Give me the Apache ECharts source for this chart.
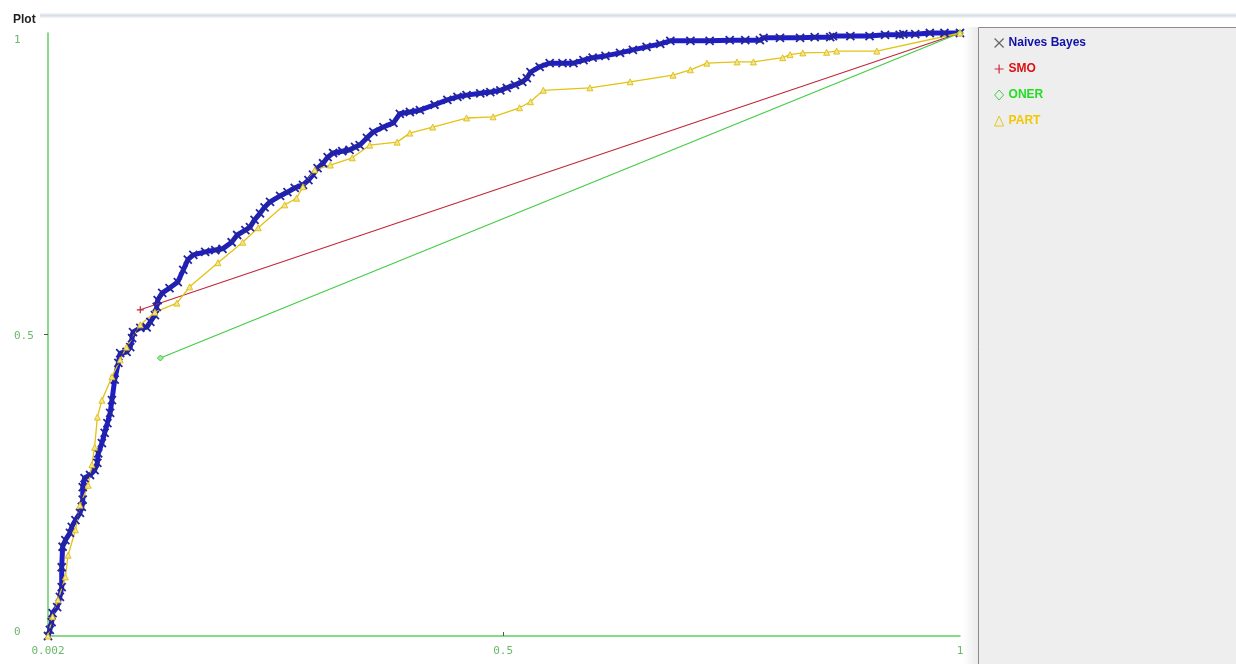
<!DOCTYPE html>
<html><head><meta charset="utf-8">
<script src="https://cdn.jsdelivr.net/npm/echarts@6/dist/echarts.min.js"></script>
<style>html,body{margin:0;padding:0;background:#fff}#c{width:1236px;height:664px}</style>
</head><body><div id="c"></div>
<script>
const seriesNames = ['Naives Bayes', 'SMO', 'ONER', 'PART'];
const xTickLabels = [0.002, 0.5, 1];
const yTickLabels = [0, 0.5, 1];

const naiveBayes = [
  [0.002,0],[0.004,0.010],[0.006,0.023],[0.007,0.038],[0.012,0.048],[0.015,0.065],[0.017,0.081],
  [0.017,0.114],[0.018,0.148],[0.021,0.159],[0.026,0.171],[0.028,0.181],[0.032,0.192],[0.037,0.204],
  [0.039,0.214],[0.040,0.226],[0.040,0.247],[0.042,0.262],[0.048,0.267],[0.053,0.275],[0.056,0.287],
  [0.057,0.303],[0.061,0.320],[0.064,0.337],[0.067,0.353],[0.070,0.370],[0.072,0.391],[0.075,0.425],
  [0.079,0.453],[0.081,0.469],[0.088,0.471],[0.092,0.479],[0.094,0.494],[0.095,0.504],[0.103,0.511],
  [0.110,0.512],[0.114,0.521],[0.119,0.532],[0.121,0.546],[0.122,0.557],[0.127,0.569],[0.135,0.577],
  [0.144,0.587],[0.150,0.607],[0.155,0.624],[0.161,0.632],[0.174,0.637],[0.185,0.640],[0.193,0.642],
  [0.203,0.653],[0.209,0.665],[0.218,0.673],[0.223,0.678],[0.228,0.690],[0.234,0.701],[0.239,0.711],
  [0.245,0.720],[0.256,0.730],[0.264,0.736],[0.272,0.743],[0.281,0.748],[0.287,0.756],[0.292,0.765],
  [0.297,0.776],[0.303,0.784],[0.308,0.794],[0.314,0.801],[0.324,0.804],[0.332,0.806],[0.338,0.811],
  [0.343,0.814],[0.351,0.826],[0.358,0.836],[0.369,0.844],[0.380,0.851],[0.387,0.866],[0.398,0.869],
  [0.409,0.872],[0.425,0.881],[0.439,0.889],[0.450,0.894],[0.460,0.897],[0.475,0.900],[0.486,0.902],
  [0.497,0.905],[0.504,0.909],[0.513,0.914],[0.521,0.919],[0.526,0.925],[0.530,0.935],[0.540,0.944],
  [0.551,0.950],[0.565,0.950],[0.577,0.950],[0.588,0.955],[0.598,0.959],[0.612,0.962],[0.628,0.967],
  [0.642,0.972],[0.657,0.977],[0.672,0.982],[0.683,0.987],[0.705,0.987],[0.726,0.987],[0.748,0.988],
  [0.765,0.988],[0.781,0.988],[0.785,0.992],[0.803,0.992],[0.825,0.992],[0.841,0.993],[0.858,0.993],
  [0.861,0.995],[0.880,0.995],[0.901,0.995],[0.918,0.997],[0.934,0.997],[0.938,0.998],[0.951,0.998],
  [0.967,1.0],[0.983,1.0],[1.0,1.0]
];
const smo = [[0.103,0.541],[1,1]];
const oner = [[0.125,0.461],[1,1]];
const part = [
  [0.002,0],[0.007,0.032],[0.013,0.060],[0.021,0.098],[0.024,0.134],[0.032,0.176],[0.037,0.217],
  [0.046,0.250],[0.050,0.284],[0.053,0.313],[0.056,0.363],[0.061,0.391],[0.072,0.430],[0.081,0.458],
  [0.088,0.479],[0.103,0.516],[0.119,0.537],[0.143,0.552],[0.157,0.579],[0.188,0.619],[0.215,0.653],
  [0.232,0.677],[0.261,0.715],[0.274,0.726],[0.281,0.745],[0.294,0.773],[0.311,0.781],[0.335,0.793],
  [0.354,0.814],[0.384,0.819],[0.398,0.834],[0.423,0.844],[0.460,0.859],[0.489,0.861],[0.518,0.876],
  [0.530,0.886],[0.544,0.905],[0.595,0.909],[0.639,0.919],[0.686,0.930],[0.705,0.939],[0.723,0.950],
  [0.756,0.952],[0.774,0.952],[0.806,0.959],[0.814,0.964],[0.828,0.967],[0.854,0.968],[0.865,0.970],
  [0.909,0.970],[1.0,1.0]
];

const X_PATH = 'path://M0,0L10,10M10,0L0,10';
const PLUS_PATH = 'path://M5,0L5,10M0,5L10,5';
const colors = { nb: '#1e1ec4', smo: '#c0283a', oner: '#44cc44', part: '#e4c214' };
const mono = '"DejaVu Sans Mono", monospace';

const chart = echarts.init(document.getElementById('c'), null, { renderer: 'canvas' });
chart.setOption({
  animation: false,
  backgroundColor: '#ffffff',
  title: {
    text: 'Plot', left: 8, top: 9,
    textStyle: { fontFamily: '"Liberation Sans", Arial, sans-serif', fontSize: 12, fontWeight: 'bold', color: '#222' }
  },
  graphic: [
    { type: 'rect', z: -10, shape: { x: 40, y: 13, width: 1196, height: 5 },
      style: { fill: new echarts.graphic.LinearGradient(0, 0, 0, 1, [
        { offset: 0, color: '#f4f6f9' }, { offset: 0.5, color: '#d8dfe8' }, { offset: 1, color: '#f4f6f9' }]) } },
    { type: 'rect', z: -10, shape: { x: 963, y: 27, width: 15, height: 637 },
      style: { fill: new echarts.graphic.LinearGradient(0, 0, 1, 0, [
        { offset: 0, color: '#ffffff' }, { offset: 1, color: '#ebebeb' }]) } },
    { type: 'rect', z: -10, shape: { x: 978.5, y: 27.5, width: 260, height: 640 },
      style: { fill: '#eeeeee', stroke: '#8c8c8c', lineWidth: 1 } }
  ],
  legend: {
    orient: 'vertical', left: 989, top: 31, z: 10,
    itemWidth: 9, itemHeight: 10, itemGap: 12, selectedMode: false,
    lineStyle: { opacity: 0 },
    textStyle: { fontFamily: '"Liberation Sans", Arial, sans-serif', fontSize: 12, fontWeight: 'bold', lineHeight: 14 },
    data: [
      { name: seriesNames[0], icon: X_PATH, itemStyle: { color: 'transparent', borderColor: '#666', borderWidth: 1.2 }, textStyle: { color: '#1212a8' } },
      { name: seriesNames[1], icon: PLUS_PATH, itemStyle: { color: 'transparent', borderColor: '#d0283a', borderWidth: 1.2 }, textStyle: { color: '#dd1010' } },
      { name: seriesNames[2], icon: 'diamond', itemStyle: { color: '#eeeeee', borderColor: '#44cc44', borderWidth: 1 }, textStyle: { color: '#22dd22' } },
      { name: seriesNames[3], icon: 'triangle', itemStyle: { color: '#eeeeee', borderColor: '#e8c81a', borderWidth: 1 }, textStyle: { color: '#f2c800' } }
    ]
  },
  grid: { left: 48, right: 276, top: 33, bottom: 28, containLabel: false },
  xAxis: {
    type: 'value', min: 0.002, max: 1,
    splitLine: { show: false },
    axisLine: { show: true, lineStyle: { color: '#60d060', width: 1.5 } },
    axisTick: { show: true, inside: true, length: 4, customValues: [0.5], lineStyle: { color: '#555' } },
    axisLabel: { customValues: xTickLabels, formatter: v => String(v), color: '#6ab86a', fontFamily: mono, fontSize: 11, margin: 10 }
  },
  yAxis: {
    type: 'value', min: 0, max: 1,
    splitLine: { show: false },
    axisLine: { show: true, lineStyle: { color: '#60d060', width: 1.5 } },
    axisTick: { show: true, inside: false, length: 4, customValues: [0.5], lineStyle: { color: '#555' } },
    axisLabel: {
      customValues: yTickLabels, align: 'left', margin: 34,
      color: '#6ab86a', fontFamily: mono, fontSize: 11,
      formatter: v => v === 1 ? '{a|1}' : (v === 0 ? '{c|0}' : '{b|' + v + '}'),
      rich: {
        a: { padding: [14, 0, 0, 0], color: '#6ab86a', fontFamily: mono, fontSize: 11 },
        b: { padding: [3, 0, 0, 0], color: '#6ab86a', fontFamily: mono, fontSize: 11 },
        c: { padding: [0, 0, 8, 0], color: '#6ab86a', fontFamily: mono, fontSize: 11 }
      }
    }
  },
  series: [
    { name: seriesNames[0], type: 'line', data: naiveBayes, clip: false,
      symbol: X_PATH, symbolSize: 8,
      lineStyle: { color: colors.nb, width: 5 },
      itemStyle: { color: 'transparent', borderColor: '#24249c', borderWidth: 1.8 } },
    { name: seriesNames[1], type: 'line', data: smo, clip: false,
      symbol: PLUS_PATH, symbolSize: 7,
      lineStyle: { color: colors.smo, width: 1.2 },
      itemStyle: { color: 'transparent', borderColor: colors.smo, borderWidth: 1.2 } },
    { name: seriesNames[2], type: 'line', data: oner, clip: false,
      symbol: 'diamond', symbolSize: 6,
      lineStyle: { color: colors.oner, width: 1.2 },
      itemStyle: { color: '#9fe89f', borderColor: colors.oner, borderWidth: 1 } },
    { name: seriesNames[3], type: 'line', data: part, clip: false,
      symbol: 'triangle', symbolSize: 6,
      lineStyle: { color: colors.part, width: 1.3 },
      itemStyle: { color: '#f4e48a', borderColor: '#d9b800', borderWidth: 0.8 } }
  ]
});
</script>
</body></html>
